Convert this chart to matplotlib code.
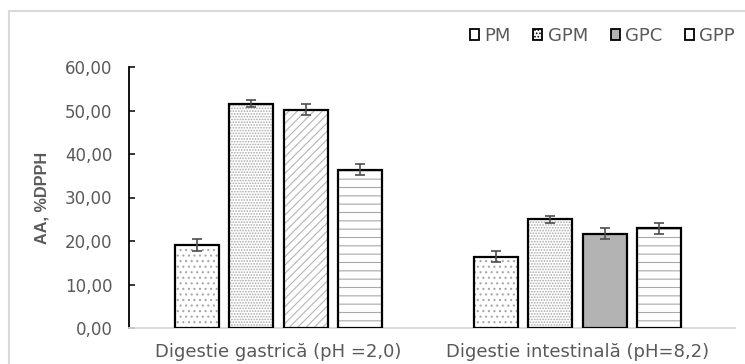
"""
Antioxidant activity (AA, %DPPH) after gastric and intestinal digestion.
"""

import matplotlib
matplotlib.use("Agg")
from matplotlib import pyplot as plt
from matplotlib.patches import Patch, Rectangle
import numpy as np

groups = ["Digestie gastrică (pH =2,0)", "Digestie intestinală (pH=8,2)"]
series = ["PM", "GPM", "GPC", "GPP"]

pm = [19.1, 16.4]
gpm = [51.5, 25.0]
gpc = [50.2, 21.7]
gpp = [36.4, 22.9]

pm_err = [1.3, 1.3]
gpm_err = [0.8, 0.85]
gpc_err = [1.3, 1.25]
gpp_err = [1.2, 1.25]


def _main():
    plt.rcParams["font.family"] = ["DejaVu Sans"]
    plt.rcParams["hatch.linewidth"] = 0.8

    text_col = "#595959"

    fig = plt.figure(figsize=(7.45, 3.64), dpi=100)
    ax = fig.add_axes([129 / 745, 36 / 364, 606 / 745, 261 / 364])

    # light chart-area border (cut by the image edges on the right and bottom)
    fig.patches.append(Rectangle((9 / 745, -0.1), 1.2, (364 - 11) / 364 + 0.1,
                                 transform=fig.transFigure, fill=False,
                                 edgecolor="#d9d9d9", linewidth=1.5))

    values = [pm, gpm, gpc, gpp]
    errors = [pm_err, gpm_err, gpc_err, gpp_err]
    # hatch per series and group; None means solid grey
    hatches = [["...", "..."], ["......", "......"], ["////", None], ["--", "--"]]
    hatch_cols = ["#a6a6a6", "#a8a8a8", "#b4b4b4", "#a8a8a8"]

    x = np.arange(len(groups))
    step = 0.1815
    width = 0.147
    for i, (vals, errs) in enumerate(zip(values, errors)):
        pos = x + (i - 1.5) * step
        for j in range(len(groups)):
            h = hatches[i][j]
            if h is None:
                ax.bar(pos[j], vals[j], width, color="#b3b3b3", linewidth=0, zorder=2)
            else:
                ax.bar(pos[j], vals[j], width, color="white", hatch=h,
                       edgecolor=hatch_cols[i], linewidth=0, zorder=2)
        ax.bar(pos, vals, width, fill=False, edgecolor="black", linewidth=1.6, zorder=3)
        ax.errorbar(pos, vals, yerr=errs, fmt="none", ecolor="#4d4d4d",
                    elinewidth=1.2, capsize=3.8, capthick=1.2, zorder=4)

    ax.set_xlim(-0.5, 1.5 + 8 / 299)
    ax.set_ylim(0, 60)
    ax.set_yticks(np.arange(0, 61, 10))
    ax.set_yticklabels([f"{v:.2f}".replace(".", ",") for v in np.arange(0, 61, 10)])
    ax.set_xticks(x)
    ax.set_xticklabels(groups)

    for s in ["top", "right"]:
        ax.spines[s].set_visible(False)
    ax.spines["left"].set_color("black")
    ax.spines["left"].set_linewidth(1.3)
    ax.spines["bottom"].set_color("#d9d9d9")
    ax.spines["bottom"].set_linewidth(1.3)

    ax.tick_params(axis="y", direction="in", length=4, width=1.1, colors="black",
                   labelcolor=text_col, labelsize=12, pad=12)
    ax.tick_params(axis="x", length=0, labelcolor=text_col, labelsize=13, pad=11)

    ax.set_ylabel("AA, %DPPH", fontsize=11.7, fontweight="bold", color=text_col,
                  labelpad=11, family="Liberation Sans")

    handles = [
        Patch(facecolor="white", edgecolor="black", linewidth=1.3),
        Patch(facecolor="white", edgecolor="black", linewidth=1.3, hatch="....."),
        Patch(facecolor="#b3b3b3", edgecolor="black", linewidth=1.3),
        Patch(facecolor="white", edgecolor="black", linewidth=1.3),
    ]
    fig.legend(handles, series, loc="center left", bbox_to_anchor=(470 / 745, 1 - 36 / 364),
               ncol=4, frameon=False, fontsize=13, labelcolor=text_col,
               handlelength=0.5, handleheight=0.5, handletextpad=0.3,
               columnspacing=1.25, borderpad=0, borderaxespad=0)

    fig.savefig("out.png", dpi=100)


if __name__ == "__main__":
    _main()
